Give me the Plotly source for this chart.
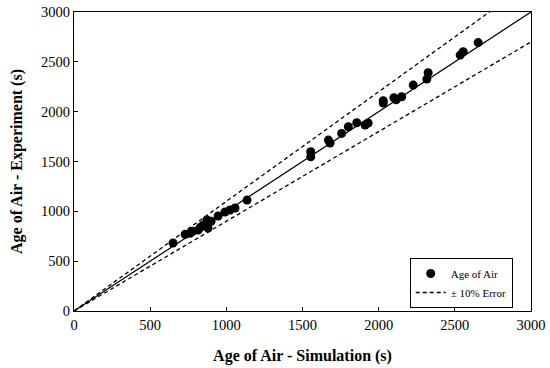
import plotly.graph_objects as go

# Data
sim = [650, 730, 762, 780, 815, 830, 848, 873, 880, 900, 946, 991, 1024, 1057, 1136,
       1554, 1554, 1670, 1681, 1757, 1801, 1856, 1911, 1931,
       2030, 2030, 2100, 2115, 2151, 2227, 2316, 2325, 2535, 2555, 2653]
exp = [682, 770, 780, 800, 812, 840, 863, 913, 832, 900, 953, 993, 1013, 1033, 1113,
       1598, 1548, 1715, 1685, 1782, 1849, 1889, 1866, 1886,
       2086, 2110, 2140, 2120, 2150, 2267, 2327, 2390, 2568, 2601, 2693]

ref_x = [0, 3000]
err = 0.10
x_ticks = [0, 500, 1000, 1500, 2000, 2500, 3000]
y_ticks = [0, 500, 1000, 1500, 2000, 2500, 3000]

FONT = "Liberation Serif, Times New Roman, serif"

fig = go.Figure()
fig.add_trace(go.Scatter(x=ref_x, y=[v * (1 + err) for v in ref_x], mode="lines",
                         line=dict(color="black", width=1.3, dash="4px,3px"),
                         name="\u00b1 10% Error", showlegend=True))
fig.add_trace(go.Scatter(x=ref_x, y=[v * (1 - err) for v in ref_x], mode="lines",
                         line=dict(color="black", width=1.3, dash="4px,3px"),
                         showlegend=False))
fig.add_trace(go.Scatter(x=ref_x, y=ref_x, mode="lines",
                         line=dict(color="black", width=1.2), showlegend=False))
fig.add_trace(go.Scatter(x=sim, y=exp, mode="markers",
                         marker=dict(color="black", size=9),
                         name="Age of Air"))

axis_common = dict(range=[0, 3000], showgrid=False, zeroline=False, automargin=False,
                   showline=True, linecolor="black", linewidth=1.2, mirror=True,
                   ticks="inside", ticklen=4, tickcolor="black",
                   tickfont=dict(family=FONT, size=14.5, color="black"))
fig.update_xaxes(**axis_common, tickvals=x_ticks,
                 title=dict(text="<b>Age of Air - Simulation (s)</b>",
                            font=dict(family=FONT, size=16, color="black"), standoff=18))
fig.update_yaxes(**axis_common, tickvals=y_ticks,
                 title=dict(text="<b>Age of Air - Experiment (s)</b>",
                            font=dict(family=FONT, size=16, color="black"), standoff=14))

fig.update_layout(
    width=550, height=368,
    margin=dict(l=74, r=19, t=12, b=57),
    plot_bgcolor="white", paper_bgcolor="white",
    legend=dict(x=0.96, y=0.01, xanchor="right", yanchor="bottom",
                bgcolor="white", bordercolor="black", borderwidth=1,
                font=dict(family=FONT, size=11, color="black"),
                traceorder="reversed", itemwidth=30, tracegroupgap=0),
    font=dict(family=FONT, color="black"),
)

fig.write_html("out.html", config={"displayModeBar": False},
               post_script="document.body.style.margin='0px';document.body.style.overflow='hidden';")
